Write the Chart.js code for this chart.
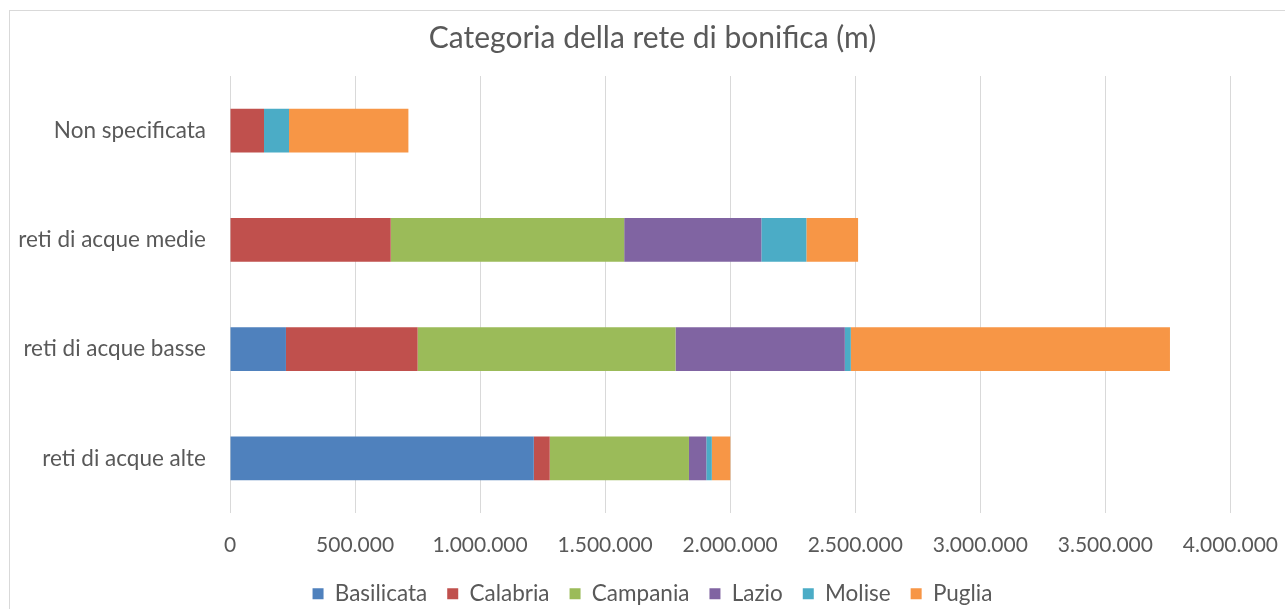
<!DOCTYPE html>
<html lang="it">
<head>
    <meta charset="UTF-8">
    <title>Categoria della rete di bonifica (m)</title>
    <script src="https://cdn.jsdelivr.net/npm/chart.js"></script>
    <style>
        html, body { margin: 0; padding: 0; background: #fff; overflow: hidden; }
        .frame {
            position: absolute; left: 9px; top: 10px;
            width: 1320px; height: 640px;
            border: 1px solid #d9d9d9;
        }
        #chart { position: absolute; left: 7px; top: 0; }
    </style>
</head>
<body>
    <div class="frame"></div>
    <canvas id="chart" width="1291" height="620"></canvas>
    <script>
        // categorie (dall'alto verso il basso)
        var categories = ['Non specificata', 'reti di acque medie', 'reti di acque basse', 'reti di acque alte'];

        var basilicata = [0, 0, 223700, 1214700];
        var calabria   = [136000, 642600, 526500, 63700];
        var campania   = [0, 933500, 1031100, 556700];
        var lazio      = [0, 548400, 677000, 69300];
        var molise     = [100000, 180000, 24000, 22100];
        var puglia     = [477300, 206800, 1276000, 74000];

        var xTicksMax = 4000000;
        var xTicksStep = 500000;

        function fmt(v) {
            return String(v).replace(/\B(?=(\d{3})+(?!\d))/g, '.');
        }

        var textColor = '#595959';
        var font = 'Lato, "Open Sans", sans-serif';

        var ctx = document.getElementById('chart').getContext('2d');
        new Chart(ctx, {
            type: 'bar',
            data: {
                labels: categories,
                datasets: [
                    { label: 'Basilicata', data: basilicata, backgroundColor: '#4F81BD' },
                    { label: 'Calabria', data: calabria, backgroundColor: '#C0504D' },
                    { label: 'Campania', data: campania, backgroundColor: '#9BBB59' },
                    { label: 'Lazio', data: lazio, backgroundColor: '#8064A2' },
                    { label: 'Molise', data: molise, backgroundColor: '#4BACC6' },
                    { label: 'Puglia', data: puglia, backgroundColor: '#F79646' }
                ]
            },
            options: {
                indexAxis: 'y',
                responsive: false,
                animation: false,
                barPercentage: 0.4,
                categoryPercentage: 1.0,
                layout: { padding: { left: 0, right: 0, top: 0, bottom: 5 } },
                plugins: {
                    title: {
                        display: true,
                        text: 'Categoria della rete di bonifica (m)',
                        color: textColor,
                        font: { family: font, size: 30, weight: 'normal' },
                        padding: { top: 20, bottom: 20 }
                    },
                    legend: {
                        position: 'bottom',
                        labels: {
                            color: textColor,
                            font: { family: font, size: 22.5 },
                            boxWidth: 11,
                            boxHeight: 11,
                            padding: 20
                        }
                    },
                    tooltip: { enabled: false }
                },
                scales: {
                    x: {
                        stacked: true,
                        min: 0,
                        max: xTicksMax,
                        ticks: {
                            stepSize: xTicksStep,
                            color: textColor,
                            font: { family: font, size: 21 },
                            padding: 20,
                            maxRotation: 0,
                            callback: function (v) { return fmt(v); }
                        },
                        grid: { color: '#d9d9d9', drawTicks: false },
                        border: { display: false },
                        afterFit: function (scale) { scale.height = 49.5; }
                    },
                    y: {
                        stacked: true,
                        ticks: {
                            color: textColor,
                            font: { family: font, size: 22.5 },
                            padding: 16
                        },
                        grid: { display: false },
                        border: { display: false },
                        afterFit: function (scale) { scale.width = 223; }
                    }
                }
            }
        });
    </script>
</body>
</html>
